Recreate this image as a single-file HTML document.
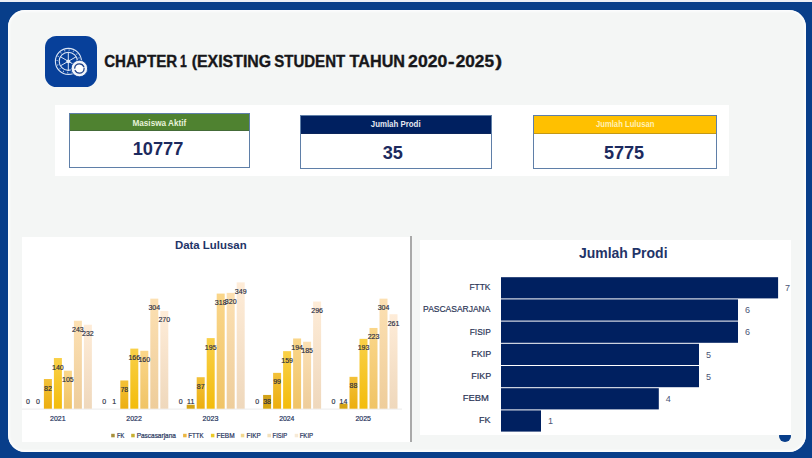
<!DOCTYPE html>
<html><head><meta charset="utf-8"><title>Chapter 1</title>
<style>
html,body{margin:0;padding:0;}
body{width:812px;height:458px;overflow:hidden;background:#083e8a;position:relative;font-family:"Liberation Sans",sans-serif;}
.abs{position:absolute;}
#topstrip{left:0;top:0;width:812px;height:2px;background:#eceff6;}
#panel{left:7.5px;top:9.8px;width:798.5px;height:442px;background:#f4f6f5;border-radius:17px;box-shadow:inset 0 0 2.5px 1.5px #fdfeff;}
#dot{left:779px;top:429.6px;width:12.4px;height:12.4px;border-radius:50%;background:#083e8a;}
#icon{left:45.2px;top:36.1px;width:51.6px;height:51px;border-radius:11.5px;background:#07409a;}
#strip{left:54.5px;top:105.3px;width:674.5px;height:71px;background:#fff;}
.card{position:absolute;box-sizing:border-box;border:1px solid #5f7fa8;background:#fff;}
.card .hd{position:absolute;left:0;top:0;right:0;box-sizing:border-box;border-bottom:1px solid rgba(40,50,80,0.28);}
#lchart{left:21.8px;top:236.7px;width:388.2px;height:205.3px;background:#fff;}
#vline{left:410px;top:236.3px;width:2px;height:206px;background:#a9a9a9;}
#rchart{left:419.5px;top:240.1px;width:371.5px;height:195px;background:#fff;}
svg text{font-family:"Liberation Sans",sans-serif;}
</style></head><body>
<div class="abs" id="topstrip"></div>
<div class="abs" id="panel"></div>
<div class="abs" id="dot"></div>
<div class="abs" id="icon"></div>
<svg class="abs" style="left:45px;top:36px" width="52" height="52" viewBox="45 36 52 52" fill="none" stroke="#dbe5f5" stroke-linecap="round">
 <circle cx="68.4" cy="61.4" r="13.0" stroke-width="1.1"/>
 <circle cx="68.3" cy="61.3" r="11.2" stroke-width="1.5" stroke-dasharray="0.9 3.5" stroke-linecap="butt" opacity="0.8"/>
 <circle cx="68.3" cy="61.3" r="9.1" stroke-width="1.1"/>
 <g stroke-width="1.0">
  <line x1="68.3" y1="61.3" x2="68.3" y2="52.4"/>
  <line x1="68.3" y1="61.3" x2="68.3" y2="70.2"/>
  <line x1="68.3" y1="61.3" x2="60.6" y2="56.85"/>
  <line x1="68.3" y1="61.3" x2="76.0" y2="56.85"/>
  <line x1="68.3" y1="61.3" x2="60.6" y2="65.75"/>
  <line x1="68.3" y1="61.3" x2="76.0" y2="65.75"/>
 </g>
 <circle cx="68.3" cy="61.3" r="1.9" fill="#e3ebf7" stroke="none"/>
 <circle cx="79.4" cy="68.5" r="8.3" fill="#f1f4fa" stroke="#07409a" stroke-width="0.8"/>
 <circle cx="79.4" cy="68.5" r="4.7" stroke="#1f4187" stroke-width="1.3" stroke-dasharray="12.3 2.46" fill="#fff"/>
</svg>
<div class="abs" id="strip"></div>
<div class="card" style="left:68.8px;top:113.4px;width:181.6px;height:54.8px;"><div class="hd" style="background:#4f8230;height:16.9px;"></div></div>
<div class="card" style="left:300.3px;top:114.7px;width:191.6px;height:54.3px;"><div class="hd" style="background:#002060;height:18.1px;"></div></div>
<div class="card" style="left:533.4px;top:114.7px;width:183.8px;height:54.3px;"><div class="hd" style="background:#ffc000;height:18.1px;"></div></div>
<div class="abs" id="lchart"></div>
<div class="abs" id="vline"></div>
<div class="abs" id="rchart"></div>
<svg class="abs" style="left:0;top:0" width="812" height="458" viewBox="0 0 812 458">
<defs><linearGradient id="g0" x1="0" y1="0" x2="0" y2="1"><stop offset="0" stop-color="#b8962e"/><stop offset="1" stop-color="#a07d1c"/></linearGradient><linearGradient id="g1" x1="0" y1="0" x2="0" y2="1"><stop offset="0" stop-color="#d2a21b"/><stop offset="1" stop-color="#d6a50f"/></linearGradient><linearGradient id="g2" x1="0" y1="0" x2="0" y2="1"><stop offset="0" stop-color="#f3c13a"/><stop offset="1" stop-color="#ecae0e"/></linearGradient><linearGradient id="g3" x1="0" y1="0" x2="0" y2="1"><stop offset="0" stop-color="#f9d048"/><stop offset="1" stop-color="#f3bc0c"/></linearGradient><linearGradient id="g4" x1="0" y1="0" x2="0" y2="1"><stop offset="0" stop-color="#fad68a"/><stop offset="1" stop-color="#f0c466"/></linearGradient><linearGradient id="g5" x1="0" y1="0" x2="0" y2="1"><stop offset="0" stop-color="#fce0b2"/><stop offset="1" stop-color="#eecd9b"/></linearGradient><linearGradient id="g6" x1="0" y1="0" x2="0" y2="1"><stop offset="0" stop-color="#feecd8"/><stop offset="1" stop-color="#efd8bc"/></linearGradient></defs>
<style>
 .dl{font-size:7px;fill:#262b40;stroke:#262b40;stroke-width:0.15px;text-anchor:middle;}
 .yr{font-size:6.8px;fill:#26345c;text-anchor:middle;}
 .lg{font-size:6.4px;fill:#26345c;text-anchor:start;}
 .val{font-size:9px;fill:#4a5576;text-anchor:start;}
</style>
<line x1="22" y1="409.1" x2="402" y2="409.1" stroke="#e6e6e6" stroke-width="0.8"/>
<rect x="43.90" y="379.02" width="8.0" height="29.68" fill="url(#g2)"/><rect x="53.90" y="358.02" width="8.0" height="50.68" fill="url(#g3)"/><rect x="63.90" y="370.69" width="8.0" height="38.01" fill="url(#g4)"/><rect x="73.90" y="320.73" width="8.0" height="87.97" fill="url(#g5)"/><rect x="83.90" y="324.72" width="8.0" height="83.98" fill="url(#g6)"/><rect x="120.30" y="380.46" width="8.0" height="28.24" fill="url(#g2)"/><rect x="130.30" y="348.61" width="8.0" height="60.09" fill="url(#g3)"/><rect x="140.30" y="350.78" width="8.0" height="57.92" fill="url(#g4)"/><rect x="150.30" y="298.65" width="8.0" height="110.05" fill="url(#g5)"/><rect x="160.30" y="310.96" width="8.0" height="97.74" fill="url(#g6)"/><rect x="186.70" y="404.72" width="8.0" height="3.98" fill="url(#g1)"/><rect x="196.70" y="377.21" width="8.0" height="31.49" fill="url(#g2)"/><rect x="206.70" y="338.11" width="8.0" height="70.59" fill="url(#g3)"/><rect x="216.70" y="293.58" width="8.0" height="115.12" fill="url(#g4)"/><rect x="226.70" y="292.86" width="8.0" height="115.84" fill="url(#g5)"/><rect x="236.70" y="282.36" width="8.0" height="126.34" fill="url(#g6)"/><rect x="263.10" y="394.94" width="8.0" height="13.76" fill="url(#g1)"/><rect x="273.10" y="372.86" width="8.0" height="35.84" fill="url(#g2)"/><rect x="283.10" y="351.14" width="8.0" height="57.56" fill="url(#g3)"/><rect x="293.10" y="338.47" width="8.0" height="70.23" fill="url(#g4)"/><rect x="303.10" y="341.73" width="8.0" height="66.97" fill="url(#g5)"/><rect x="313.10" y="301.55" width="8.0" height="107.15" fill="url(#g6)"/><rect x="339.50" y="403.63" width="8.0" height="5.07" fill="url(#g1)"/><rect x="349.50" y="376.84" width="8.0" height="31.86" fill="url(#g2)"/><rect x="359.50" y="338.83" width="8.0" height="69.87" fill="url(#g3)"/><rect x="369.50" y="327.97" width="8.0" height="80.73" fill="url(#g4)"/><rect x="379.50" y="298.65" width="8.0" height="110.05" fill="url(#g5)"/><rect x="389.50" y="314.22" width="8.0" height="94.48" fill="url(#g6)"/>
<text x="27.90" y="404.40" class="dl">0</text><text x="37.90" y="404.40" class="dl">0</text><text x="47.90" y="390.52" class="dl">82</text><text x="57.90" y="369.52" class="dl">140</text><text x="67.90" y="382.19" class="dl">105</text><text x="77.90" y="332.23" class="dl">243</text><text x="87.90" y="336.22" class="dl">232</text><text x="104.30" y="404.40" class="dl">0</text><text x="114.30" y="404.40" class="dl">1</text><text x="124.30" y="391.96" class="dl">78</text><text x="134.30" y="360.11" class="dl">166</text><text x="144.30" y="362.28" class="dl">160</text><text x="154.30" y="310.15" class="dl">304</text><text x="164.30" y="322.46" class="dl">270</text><text x="180.70" y="404.40" class="dl">0</text><text x="190.70" y="404.40" class="dl">11</text><text x="200.70" y="388.71" class="dl">87</text><text x="210.70" y="349.61" class="dl">195</text><text x="220.70" y="305.08" class="dl">318</text><text x="230.70" y="304.36" class="dl">320</text><text x="240.70" y="293.86" class="dl">349</text><text x="257.10" y="404.40" class="dl">0</text><text x="267.10" y="404.40" class="dl">38</text><text x="277.10" y="384.36" class="dl">99</text><text x="287.10" y="362.64" class="dl">159</text><text x="297.10" y="349.97" class="dl">194</text><text x="307.10" y="353.23" class="dl">185</text><text x="317.10" y="313.05" class="dl">296</text><text x="333.50" y="404.40" class="dl">0</text><text x="343.50" y="404.40" class="dl">14</text><text x="353.50" y="388.34" class="dl">88</text><text x="363.50" y="350.33" class="dl">193</text><text x="373.50" y="339.47" class="dl">223</text><text x="383.50" y="310.15" class="dl">304</text><text x="393.50" y="325.72" class="dl">261</text>
<rect x="111.2" y="433.8" width="3.5" height="3.5" fill="#a8903a"/><rect x="131.2" y="433.8" width="3.5" height="3.5" fill="#c8b030"/><rect x="183.1" y="433.8" width="3.5" height="3.5" fill="#ecb640"/><rect x="210.9" y="433.8" width="3.5" height="3.5" fill="#ecca28"/><rect x="240.8" y="433.8" width="3.5" height="3.5" fill="#f2d88e"/><rect x="267.4" y="433.8" width="3.5" height="3.5" fill="#f3e1bc"/><rect x="294.7" y="433.8" width="3.5" height="3.5" fill="#f7ead6"/>
<rect x="501" y="277.20" width="277.10" height="21.2" fill="#002060"/><text x="785.10" y="291.00" class="val">7</text><rect x="501" y="299.40" width="237.00" height="21.2" fill="#002060"/><text x="745.00" y="313.20" class="val">6</text><rect x="501" y="321.60" width="237.00" height="21.2" fill="#002060"/><text x="745.00" y="335.40" class="val">6</text><rect x="501" y="343.80" width="198.00" height="21.2" fill="#002060"/><text x="706.00" y="357.60" class="val">5</text><rect x="501" y="366.00" width="198.00" height="21.2" fill="#002060"/><text x="706.00" y="379.80" class="val">5</text><rect x="501" y="388.20" width="157.80" height="21.2" fill="#002060"/><text x="665.80" y="402.00" class="val">4</text><rect x="501" y="410.40" width="40.00" height="21.2" fill="#002060"/><text x="548.00" y="424.20" class="val">1</text>
<text id="t1" x="104.15" y="66.80" textLength="73.02" lengthAdjust="spacingAndGlyphs" font-size="15.60" font-weight="bold" fill="#17171a" stroke="#17171a" stroke-width="0.35">CHAPTER</text>
<text id="t2" x="180.05" y="66.80" textLength="6.80" lengthAdjust="spacingAndGlyphs" font-size="15.60" font-weight="bold" fill="#17171a" stroke="#17171a" stroke-width="0.35">1</text>
<text id="t3" x="191.75" y="66.80" textLength="79.37" lengthAdjust="spacingAndGlyphs" font-size="15.60" font-weight="bold" fill="#17171a" stroke="#17171a" stroke-width="0.35">(EXISTING</text>
<text id="t4" x="274.20" y="66.80" textLength="71.00" lengthAdjust="spacingAndGlyphs" font-size="15.60" font-weight="bold" fill="#17171a" stroke="#17171a" stroke-width="0.35">STUDENT</text>
<text id="t5" x="349.60" y="66.80" textLength="55.43" lengthAdjust="spacingAndGlyphs" font-size="15.60" font-weight="bold" fill="#17171a" stroke="#17171a" stroke-width="0.35">TAHUN</text>
<text id="t6" x="408.10" y="66.80" textLength="39.22" lengthAdjust="spacingAndGlyphs" font-size="15.60" font-weight="bold" fill="#17171a" stroke="#17171a" stroke-width="0.35">2020</text>
<text id="t7" x="448.10" y="66.80" textLength="6.49" lengthAdjust="spacingAndGlyphs" font-size="15.60" font-weight="bold" fill="#17171a" stroke="#17171a" stroke-width="0.35">-</text>
<text id="t8" x="455.65" y="66.80" textLength="38.34" lengthAdjust="spacingAndGlyphs" font-size="15.60" font-weight="bold" fill="#17171a" stroke="#17171a" stroke-width="0.35">2025</text>
<text id="t9" x="495.25" y="66.80" textLength="6.88" lengthAdjust="spacingAndGlyphs" font-size="15.60" font-weight="bold" fill="#17171a" stroke="#17171a" stroke-width="0.35">)</text>
<text id="n1" x="132.65" y="154.50" textLength="50.66" lengthAdjust="spacingAndGlyphs" font-size="18.25" font-weight="bold" fill="#1c2a5e" >10777</text>
<text id="n2" x="382.70" y="159.10" textLength="20.18" lengthAdjust="spacingAndGlyphs" font-size="17.98" font-weight="bold" fill="#1c2a5e" >35</text>
<text id="n3" x="603.95" y="158.80" textLength="40.24" lengthAdjust="spacingAndGlyphs" font-size="17.98" font-weight="bold" fill="#1c2a5e" >5775</text>
<text id="h1" x="132.45" y="126.00" textLength="53.86" lengthAdjust="spacingAndGlyphs" font-size="8.30" font-weight="bold" fill="#e6f2d9" >Masiswa Aktif</text>
<text id="h2" x="370.75" y="126.80" textLength="49.86" lengthAdjust="spacingAndGlyphs" font-size="9.09" font-weight="bold" fill="#e4e8f2" >Jumlah Prodi</text>
<text id="h3" x="595.95" y="126.80" textLength="58.50" lengthAdjust="spacingAndGlyphs" font-size="9.09" font-weight="bold" fill="#fff1b8" >Jumlah Lulusan</text>
<text id="c1" x="174.95" y="248.90" textLength="71.68" lengthAdjust="spacingAndGlyphs" font-size="11.35" font-weight="bold" fill="#1f3468" >Data Lulusan</text>
<text id="c2" x="578.90" y="257.50" textLength="88.66" lengthAdjust="spacingAndGlyphs" font-size="14.83" font-weight="bold" fill="#1f3468" >Jumlah Prodi</text>
<text id="k1" x="469.40" y="290.20" textLength="21.04" lengthAdjust="spacingAndGlyphs" font-size="9.36"  fill="#2b3556" stroke="#2b3556" stroke-width="0.2">FTTK</text>
<text id="k2" x="423.10" y="312.40" textLength="67.31" lengthAdjust="spacingAndGlyphs" font-size="9.36"  fill="#2b3556" stroke="#2b3556" stroke-width="0.2">PASCASARJANA</text>
<text id="k3" x="469.75" y="334.60" textLength="20.98" lengthAdjust="spacingAndGlyphs" font-size="9.36"  fill="#2b3556" stroke="#2b3556" stroke-width="0.2">FISIP</text>
<text id="k4" x="471.25" y="356.80" textLength="19.86" lengthAdjust="spacingAndGlyphs" font-size="9.36"  fill="#2b3556" stroke="#2b3556" stroke-width="0.2">FKIP</text>
<text id="k5" x="471.25" y="379.00" textLength="19.86" lengthAdjust="spacingAndGlyphs" font-size="9.36"  fill="#2b3556" stroke="#2b3556" stroke-width="0.2">FIKP</text>
<text id="k6" x="462.70" y="401.20" textLength="26.18" lengthAdjust="spacingAndGlyphs" font-size="9.36"  fill="#2b3556" stroke="#2b3556" stroke-width="0.2">FEBM</text>
<text id="k7" x="479.10" y="423.40" textLength="11.58" lengthAdjust="spacingAndGlyphs" font-size="9.36"  fill="#2b3556" stroke="#2b3556" stroke-width="0.2">FK</text>
<text id="l0" x="117.00" y="437.70" textLength="7.25" lengthAdjust="spacingAndGlyphs" font-size="6.66"  fill="#26345c" stroke="#26345c" stroke-width="0.2">FK</text>
<text id="l1" x="136.65" y="437.70" textLength="39.24" lengthAdjust="spacingAndGlyphs" font-size="6.66"  fill="#26345c" stroke="#26345c" stroke-width="0.2">Pascasarjana</text>
<text id="l2" x="188.30" y="437.70" textLength="15.20" lengthAdjust="spacingAndGlyphs" font-size="6.66"  fill="#26345c" stroke="#26345c" stroke-width="0.2">FTTK</text>
<text id="l3" x="216.50" y="437.70" textLength="18.06" lengthAdjust="spacingAndGlyphs" font-size="6.66"  fill="#26345c" stroke="#26345c" stroke-width="0.2">FEBM</text>
<text id="l4" x="246.50" y="437.70" textLength="14.14" lengthAdjust="spacingAndGlyphs" font-size="6.66"  fill="#26345c" stroke="#26345c" stroke-width="0.2">FIKP</text>
<text id="l5" x="272.55" y="437.70" textLength="14.68" lengthAdjust="spacingAndGlyphs" font-size="6.66"  fill="#26345c" stroke="#26345c" stroke-width="0.2">FISIP</text>
<text id="l6" x="299.65" y="437.70" textLength="13.49" lengthAdjust="spacingAndGlyphs" font-size="6.66"  fill="#26345c" stroke="#26345c" stroke-width="0.2">FKIP</text>
<text id="y0" x="50.00" y="421.40" textLength="15.54" lengthAdjust="spacingAndGlyphs" font-size="7.03"  fill="#26345c" stroke="#26345c" stroke-width="0.2">2021</text>
<text id="y1" x="126.30" y="421.40" textLength="15.54" lengthAdjust="spacingAndGlyphs" font-size="7.03"  fill="#26345c" stroke="#26345c" stroke-width="0.2">2022</text>
<text id="y2" x="202.60" y="421.40" textLength="15.82" lengthAdjust="spacingAndGlyphs" font-size="7.03"  fill="#26345c" stroke="#26345c" stroke-width="0.2">2023</text>
<text id="y3" x="279.15" y="421.40" textLength="15.29" lengthAdjust="spacingAndGlyphs" font-size="7.03"  fill="#26345c" stroke="#26345c" stroke-width="0.2">2024</text>
<text id="y4" x="355.45" y="421.40" textLength="15.54" lengthAdjust="spacingAndGlyphs" font-size="7.03"  fill="#26345c" stroke="#26345c" stroke-width="0.2">2025</text>
</svg>
</body></html>
